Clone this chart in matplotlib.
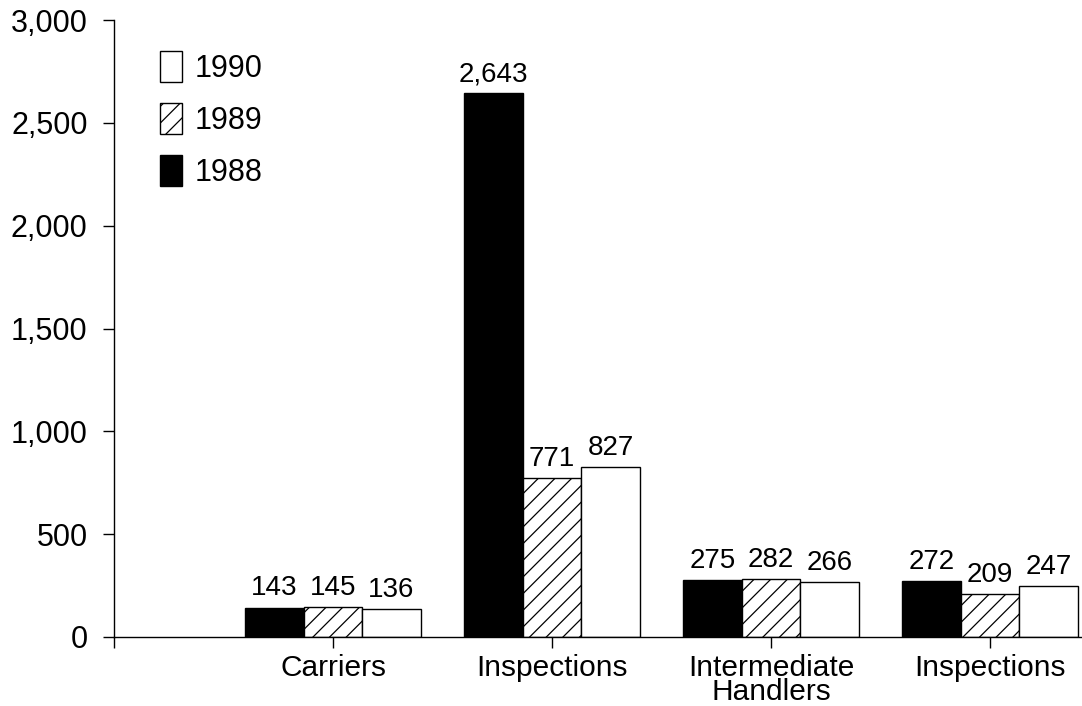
import matplotlib.pyplot as plt
import numpy as np
from matplotlib.patches import Patch
from matplotlib.ticker import FuncFormatter

categories = ["Carriers", "Inspections", "Intermediate\nHandlers", "Inspections"]
years = ["1988", "1989", "1990"]
values_1988 = [143, 2643, 275, 272]
values_1989 = [145, 771, 282, 209]
values_1990 = [136, 827, 266, 247]

plt.rcParams["font.family"] = ["Liberation Sans", "DejaVu Sans"]
plt.rcParams["hatch.linewidth"] = 0.9

fig = plt.figure(figsize=(10.82, 7.06), dpi=100)
ax = fig.add_axes([114 / 1082, 69 / 706, 1 - 114 / 1082, (637 - 20) / 706])

x = np.arange(len(categories))
w = 0.267
styles = [
    dict(color="black", hatch=None),
    dict(color="white", hatch="//"),
    dict(color="white", hatch=None),
]
series = [values_1988, values_1989, values_1990]

for i, (vals, st) in enumerate(zip(series, styles)):
    bars = ax.bar(x + (i - 1) * w, vals, w, facecolor=st["color"],
                  edgecolor="black", hatch=st["hatch"], linewidth=1.0)
    for b, v in zip(bars, vals):
        ax.text(b.get_x() + b.get_width() / 2, v + 30, f"{v:,}",
                ha="center", va="bottom", fontsize=20)

ax.set_xlim(-1, (1082 - 333) / 219)
ax.set_ylim(0, 3000)
ax.set_yticks(np.arange(0, 3001, 500))
ax.yaxis.set_major_formatter(FuncFormatter(lambda v, p: f"{int(v):,}"))
ax.set_xticks([-1] + list(x))
ax.set_xticklabels([""] + categories, fontsize=21.5, linespacing=0.82)
ax.tick_params(axis="y", labelsize=22, length=8, width=1.0, pad=11)
ax.tick_params(axis="x", length=8, width=1.0, pad=4)

for s in ["top", "right"]:
    ax.spines[s].set_visible(False)
for s in ["left", "bottom"]:
    ax.spines[s].set_linewidth(1.0)

handles = [
    Patch(facecolor="white", edgecolor="black", label="1990"),
    Patch(facecolor="white", edgecolor="black", hatch="//", label="1989"),
    Patch(facecolor="black", edgecolor="black", label="1988"),
]
ax.legend(handles=handles, loc="upper left", bbox_to_anchor=(0.035, 0.97),
          frameon=False, fontsize=22, handlelength=0.73, handleheight=1.2,
          handletextpad=0.4, labelspacing=0.62, borderaxespad=0)

fig.savefig("out.png", dpi=100)
